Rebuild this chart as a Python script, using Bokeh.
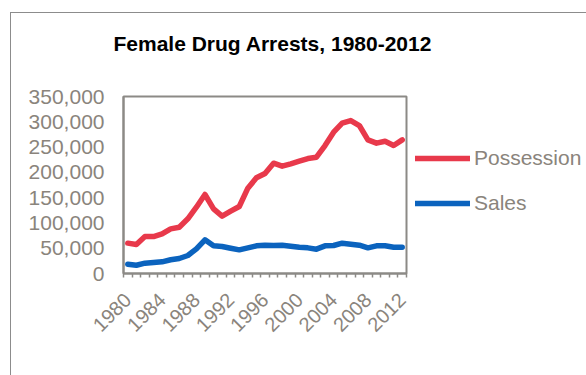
import math
from bokeh.plotting import figure
from bokeh.models import (FixedTicker, NumeralTickFormatter, Legend, LegendItem,
                          Range1d, ColumnDataSource)
from bokeh.embed import file_html
from bokeh.resources import INLINE

years = list(range(1980, 2013))
possession = [60000, 57300, 73100, 73100, 78400, 88300, 91600, 108100, 131100, 156200,
              127900, 113400, 123200, 132500, 168700, 189200, 197800, 218100, 212200, 216900,
              222100, 227400, 230000, 253100, 279400, 297200, 302500, 292600, 264300, 257700,
              261600, 253100, 264300]
sales = [18400, 16400, 20400, 21700, 23100, 27100, 29700, 35600, 48800, 66600,
         54700, 53400, 50000, 46800, 50700, 54700, 55700, 55400, 56000, 54000,
         52000, 50700, 48100, 54700, 55400, 60000, 58000, 56000, 50700, 54700,
         54700, 52000, 52000]
y_ticks = [0, 50000, 100000, 150000, 200000, 250000, 300000, 350000]
x_label_years = [1980, 1984, 1988, 1992, 1996, 2000, 2004, 2008, 2012]
series_names = ["Possession", "Sales"]
series_colors = ["#e8394b", "#0b63be"]
title_text = "Female Drug Arrests, 1980-2012"

TEXT = "#8a847c"
GRID = "#8c8a86"
FONT = "Liberation Sans"

src = ColumnDataSource(dict(year=years, possession=possession, sales=sales))

p = figure(frame_width=283, frame_height=177, output_backend="svg", toolbar_location=None,
           x_range=Range1d(1979.5, 2012.5), y_range=Range1d(0, 350000),
           min_border_left=112, min_border_right=180, min_border_top=83,
           min_border_bottom=102, margin=(12, 0, 0, 10))
p.styles = {"border-left": "1px solid #8c8c8c", "border-top": "1px solid #8c8c8c"}

# a blank second line lifts the title toward the top of the chart area
p.title.text = title_text + "\n "
p.title.align = "left"
p.title.vertical_align = "bottom"
p.title.standoff = 0
p.title.offset = -10
p.title.text_line_height = 1.8
p.title.text_font = FONT
p.title.text_font_size = "21px"
p.title.text_font_style = "bold"
p.title.text_color = "#000000"

p.outline_line_color = GRID
p.outline_line_width = 2
p.xgrid.visible = False
p.ygrid.visible = False
p.background_fill_color = "white"
p.border_fill_color = "white"

r1 = p.line("year", "possession", source=src, line_color=series_colors[0], line_width=5.5,
            line_join="round", line_cap="round")
r2 = p.line("year", "sales", source=src, line_color=series_colors[1], line_width=5.5,
            line_join="round", line_cap="round")

xa = p.xaxis[0]
xa.ticker = FixedTicker(ticks=x_label_years, minor_ticks=[y - 0.5 for y in years] + [2012.5])
xa.major_tick_out = 0
xa.major_tick_in = 0
xa.minor_tick_out = 4
xa.minor_tick_in = 0
xa.minor_tick_line_color = GRID
xa.minor_tick_line_width = 1.5
xa.axis_line_color = GRID
xa.axis_line_width = 2
xa.major_label_orientation = math.pi / 4
xa.major_label_text_font = FONT
xa.major_label_text_font_size = "20px"
xa.major_label_text_color = TEXT
xa.major_label_standoff = 19

ya = p.yaxis[0]
ya.ticker = FixedTicker(ticks=y_ticks, minor_ticks=[])
ya.formatter = NumeralTickFormatter(format="0,0")
ya.major_tick_out = 0
ya.major_tick_in = 0
ya.axis_line_color = GRID
ya.axis_line_width = 2
ya.major_label_text_font = FONT
ya.major_label_text_font_size = "21px"
ya.major_label_text_color = TEXT
ya.major_label_standoff = 19

legend = Legend(items=[LegendItem(label=series_names[0], renderers=[r1]),
                       LegendItem(label=series_names[1], renderers=[r2])],
                location=(9, 58), orientation="vertical")
legend.label_text_font = FONT
legend.label_text_font_size = "21px"
legend.label_text_color = TEXT
legend.glyph_width = 55
legend.glyph_height = 20
legend.spacing = 21
legend.label_standoff = 4
legend.padding = 0
legend.margin = 0
legend.border_line_alpha = 0
legend.background_fill_alpha = 0
p.add_layout(legend, "right")

open("out.html", "w").write(file_html(p, INLINE))
